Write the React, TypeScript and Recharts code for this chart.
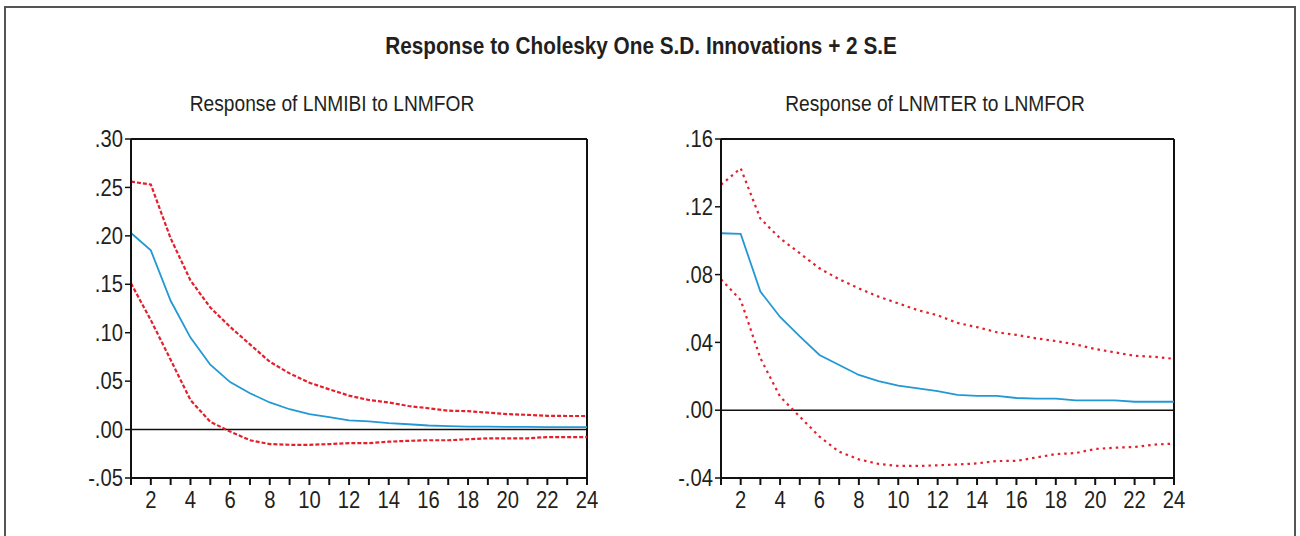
import { LineChart, Line, XAxis, YAxis, ReferenceLine } from "recharts";

const periods = [1, 2, 3, 4, 5, 6, 7, 8, 9, 10, 11, 12, 13, 14, 15, 16, 17, 18, 19, 20, 21, 22, 23, 24];

// Response of LNMIBI to LNMFOR
const mibiResp = [0.203, 0.185, 0.133, 0.095, 0.067, 0.049, 0.0375, 0.028, 0.021, 0.016, 0.0128, 0.0095, 0.0084, 0.0066, 0.0055, 0.0042, 0.0036, 0.003, 0.003, 0.0028, 0.0027, 0.0026, 0.0026, 0.0025];
const mibiUpper = [0.256, 0.253, 0.1975, 0.154, 0.126, 0.106, 0.088, 0.07, 0.058, 0.0484, 0.0415, 0.035, 0.0305, 0.028, 0.0243, 0.022, 0.0195, 0.019, 0.0175, 0.0159, 0.0152, 0.0142, 0.014, 0.014];
const mibiLower = [0.151, 0.113, 0.072, 0.0305, 0.008, -0.002, -0.011, -0.015, -0.0157, -0.0157, -0.015, -0.014, -0.014, -0.0125, -0.0116, -0.011, -0.011, -0.01, -0.009, -0.009, -0.009, -0.0077, -0.0077, -0.0077];

// Response of LNMTER to LNMFOR
const mterResp = [0.1044, 0.104, 0.07, 0.055, 0.0435, 0.0326, 0.0267, 0.0208, 0.0172, 0.0145, 0.0129, 0.0113, 0.009, 0.0084, 0.0084, 0.0072, 0.0068, 0.0068, 0.0058, 0.0058, 0.0058, 0.005, 0.005, 0.005];
const mterUpper = [0.133, 0.1427, 0.113, 0.1014, 0.0926, 0.0837, 0.0772, 0.0719, 0.067, 0.063, 0.059, 0.056, 0.0515, 0.049, 0.046, 0.0444, 0.0424, 0.0408, 0.0388, 0.0361, 0.0341, 0.0321, 0.0315, 0.0303];
const mterLower = [0.0772, 0.065, 0.0307, 0.008, -0.0038, -0.0156, -0.0245, -0.029, -0.0317, -0.0329, -0.0329, -0.0325, -0.032, -0.0314, -0.03, -0.0299, -0.0279, -0.0259, -0.0253, -0.0229, -0.0221, -0.0217, -0.0203, -0.0197];

const mibiTicks = [-0.05, 0, 0.05, 0.1, 0.15, 0.2, 0.25, 0.3];
const mterTicks = [-0.04, 0, 0.04, 0.08, 0.12, 0.16];

const FONT = '"Liberation Sans", Arial, sans-serif';
const INK = "#231f20";
const BLUE = "#2298d5";
const RED = "#e3202b";
const SQUEEZE = 0.88;

const fmtY = (v: number) => {
  const s = Math.abs(v).toFixed(2).replace(/^0/, "");
  return v < 0 ? "-" + s : s;
};
const fmtX = (v: number) => (v % 2 === 0 ? String(v) : "");

// narrow tick text, like the condensed face in the original
const NarrowTick = (props: any) => {
  const { x, y, payload, textAnchor, isX } = props;
  const text = isX ? fmtX(payload.value) : fmtY(payload.value);
  return (
    <text
      transform={`translate(${x},${y}) scale(${SQUEEZE},1)`}
      textAnchor={textAnchor}
      dy={isX ? "0.71em" : "0.355em"}
      fill={INK}
      fontSize={23}
      fontFamily={FONT}
    >
      {text}
    </text>
  );
};

type PanelProps = {
  left: number;
  resp: number[];
  upper: number[];
  lower: number[];
  yTicks: number[];
  dash: string;
  marginLeft: number;
  marginRight: number;
};

const IrfPanel = ({ left, resp, upper, lower, yTicks, dash, marginLeft, marginRight }: PanelProps) => {
  const rows = periods.map((k, i) => ({ k, resp: resp[i], upper: upper[i], lower: lower[i] }));
  const yMin = yTicks[0];
  const yMax = yTicks[yTicks.length - 1];
  return (
    <div style={{ position: "absolute", left, top: 120 }}>
      <LineChart
        width={600}
        height={416}
        data={rows}
        margin={{ top: 19, right: marginRight, bottom: 28, left: marginLeft }}
      >
        <XAxis
          dataKey="k"
          type="number"
          domain={[1, 24]}
          ticks={periods}
          interval={0}
          tick={<NarrowTick isX />}
          tickSize={7}
          tickMargin={7}
          height={30}
          axisLine={{ stroke: "#111", strokeWidth: 2 }}
          tickLine={{ stroke: "#111", strokeWidth: 2 }}
        />
        <YAxis
          type="number"
          domain={[yMin, yMax]}
          ticks={yTicks}
          interval={0}
          tick={<NarrowTick />}
          tickSize={6}
          tickMargin={2}
          width={50}
          axisLine={{ stroke: "#111", strokeWidth: 2 }}
          tickLine={{ stroke: "#111", strokeWidth: 1.5 }}
        />
        <ReferenceLine y={yMax} stroke="#111" strokeWidth={2} />
        <ReferenceLine x={24} stroke="#111" strokeWidth={2} />
        <ReferenceLine y={0} stroke="#111" strokeWidth={1.6} />
        <Line dataKey="upper" type="linear" stroke={RED} strokeWidth={2.2} strokeDasharray={dash} dot={false} isAnimationActive={false} />
        <Line dataKey="lower" type="linear" stroke={RED} strokeWidth={2.2} strokeDasharray={dash} dot={false} isAnimationActive={false} />
        <Line dataKey="resp" type="linear" stroke={BLUE} strokeWidth={1.8} dot={false} isAnimationActive={false} />
      </LineChart>
    </div>
  );
};

const label = (text: string, cx: number, cy: number, size: number, bold: boolean) => (
  <div
    style={{
      position: "absolute",
      left: cx - 400,
      top: cy - size * 0.6,
      width: 800,
      textAlign: "center",
      fontFamily: FONT,
      fontSize: size,
      fontWeight: bold ? 700 : 400,
      color: INK,
      lineHeight: `${size * 1.2}px`,
      whiteSpace: "nowrap",
      transform: `scaleX(${SQUEEZE})`,
    }}
  >
    {text}
  </div>
);

export default function App() {
  return (
    <div style={{ position: "absolute", left: 0, top: 0, width: 1300, height: 536, background: "#fff", overflow: "hidden" }}>
      <div
        style={{
          position: "absolute",
          left: 4,
          top: 6,
          width: 1292,
          height: 530,
          borderTop: "2px solid #555",
          borderLeft: "2px solid #555",
          borderRight: "2px solid #555",
          boxSizing: "border-box",
        }}
      />
      {label("Response to Cholesky One S.D. Innovations + 2 S.E", 641, 46, 23.6, true)}
      {label("Response of LNMIBI to LNMFOR", 332, 104, 21.8, false)}
      {label("Response of LNMTER to LNMFOR", 935, 104, 21.8, false)}
      <IrfPanel left={40} resp={mibiResp} upper={mibiUpper} lower={mibiLower} yTicks={mibiTicks} dash="4 2" marginLeft={41} marginRight={53} />
      <IrfPanel left={640} resp={mterResp} upper={mterUpper} lower={mterLower} yTicks={mterTicks} dash="2.5 4" marginLeft={31} marginRight={66} />
    </div>
  );
}
